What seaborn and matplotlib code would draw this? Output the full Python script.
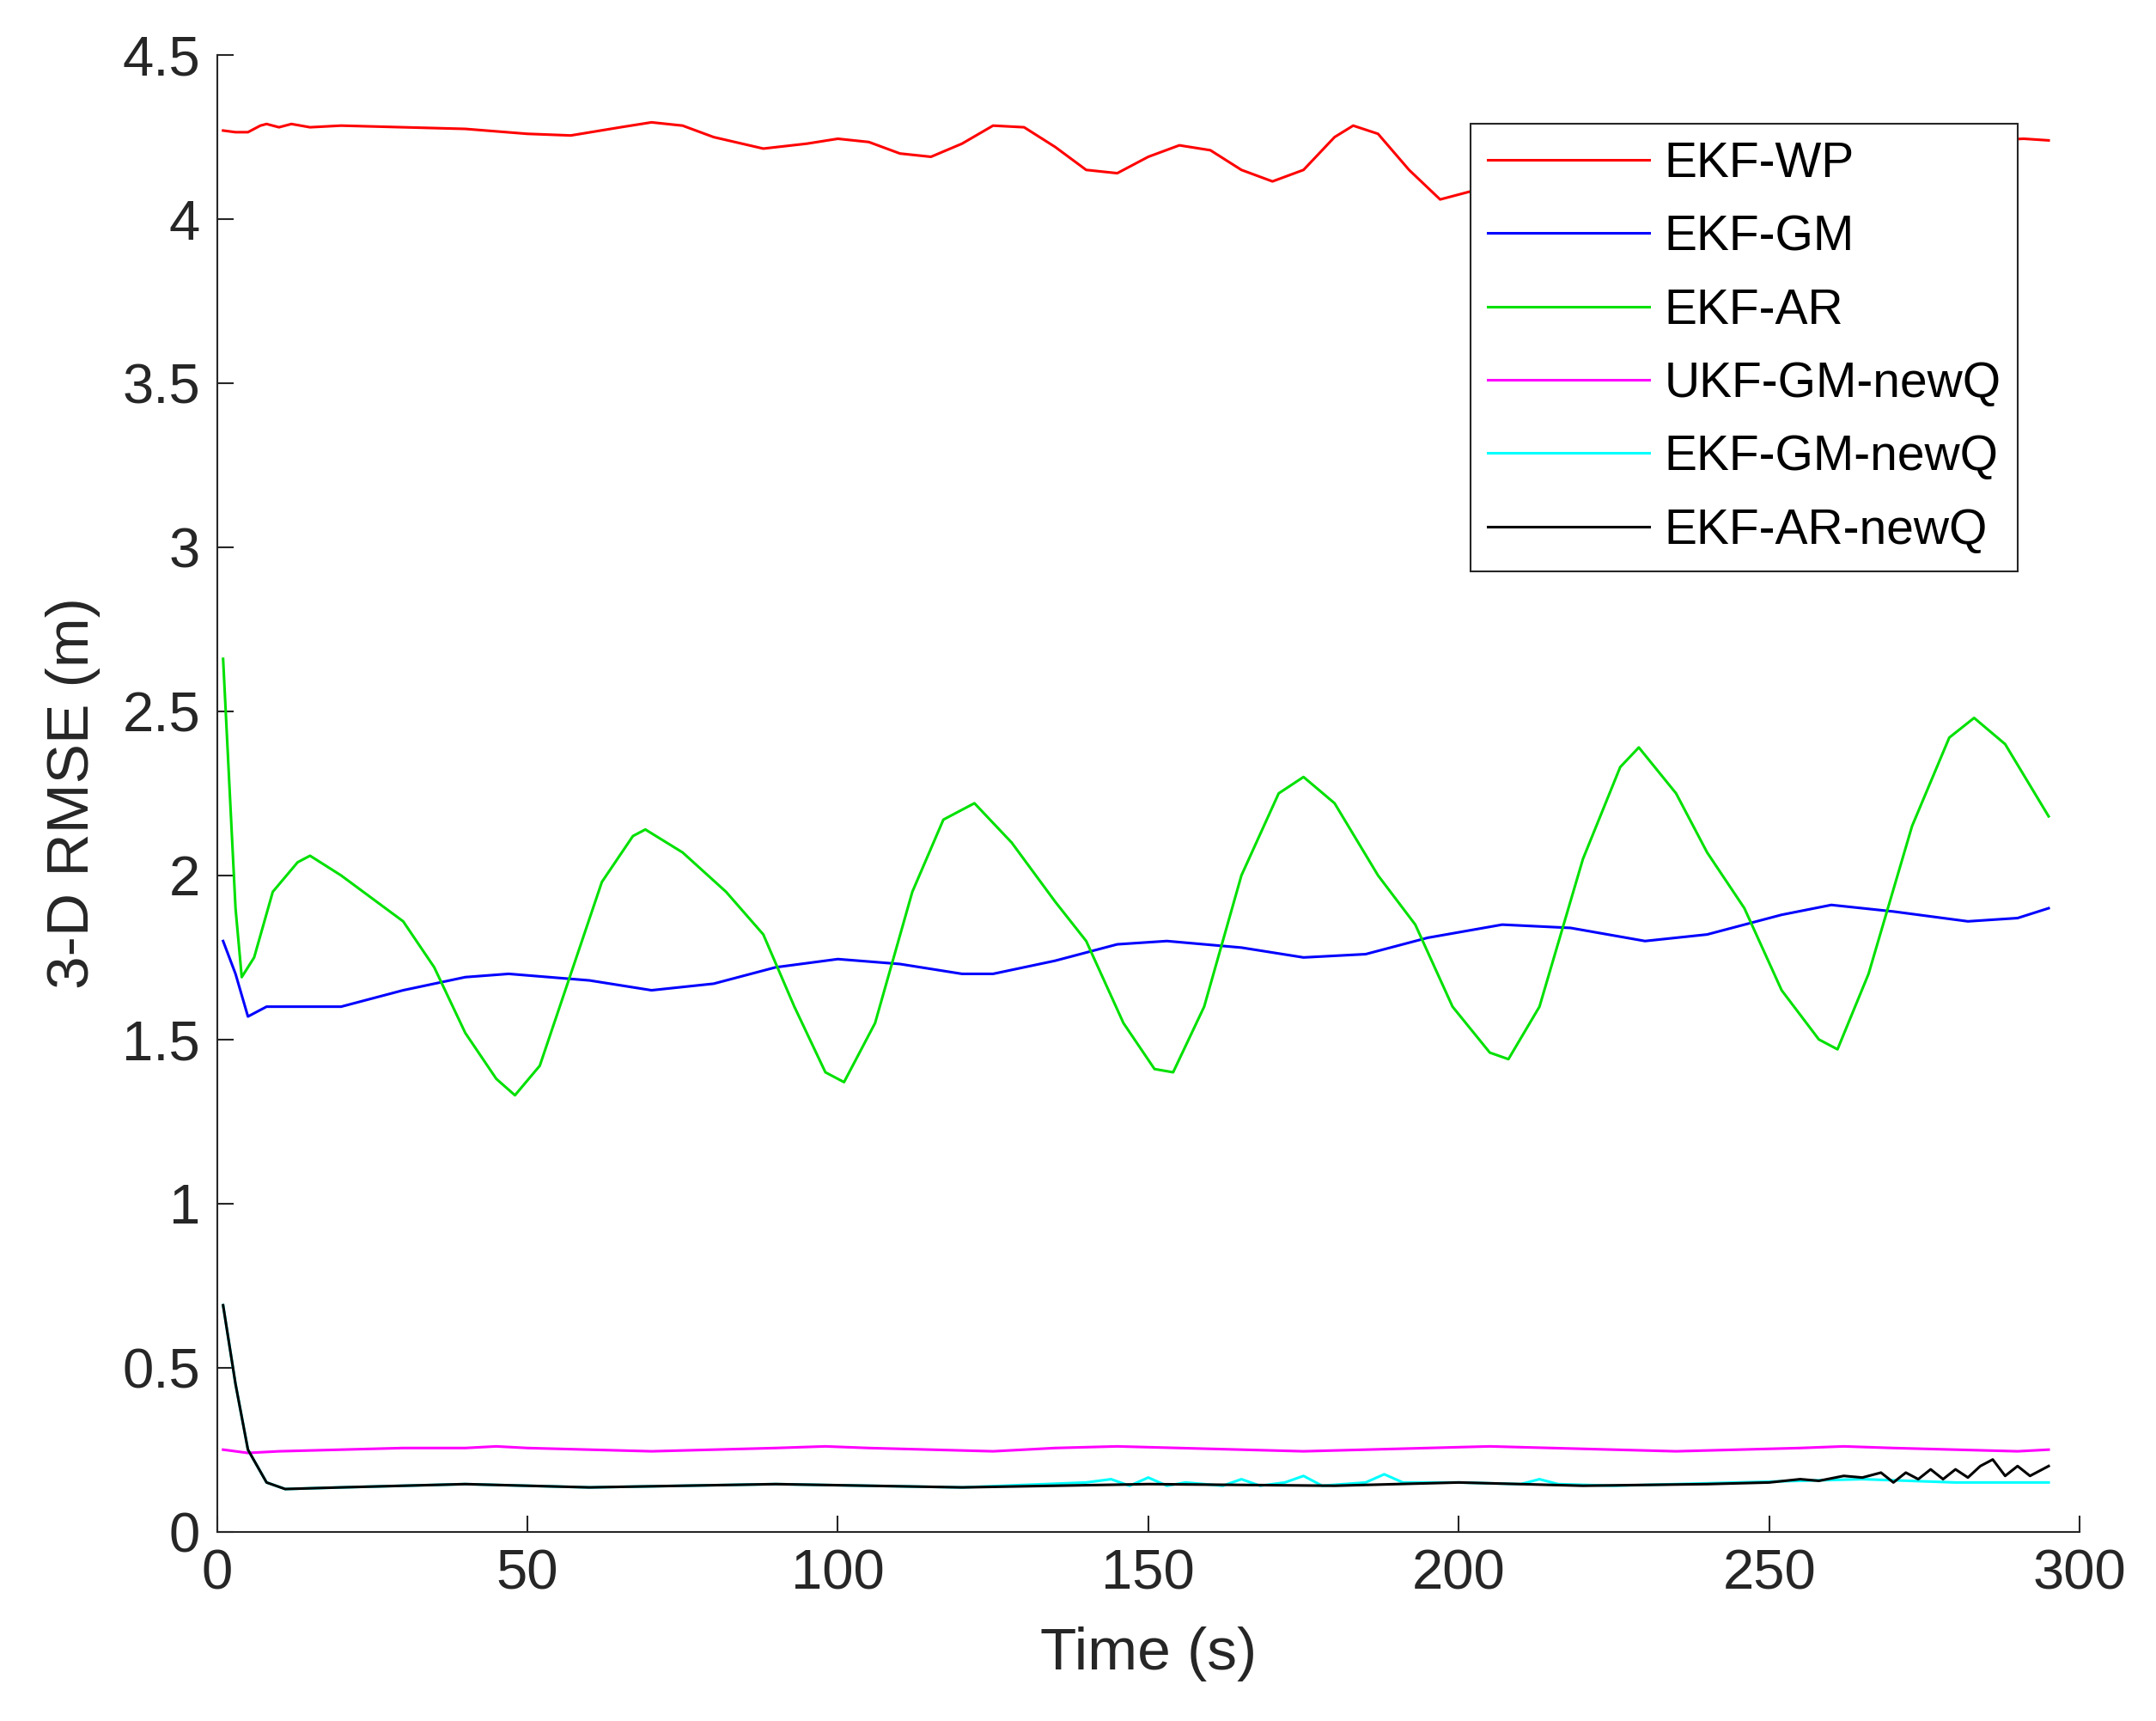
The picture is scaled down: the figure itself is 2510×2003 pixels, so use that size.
import numpy as np
import pandas as pd
import seaborn as sns
import matplotlib
matplotlib.use("Agg")
import matplotlib.pyplot as plt

series_names = ["EKF-WP", "EKF-GM", "EKF-AR", "UKF-GM-newQ", "EKF-GM-newQ", "EKF-AR-newQ"]
colors = ["#ff0000", "#0000ff", "#00e000", "#ff00ff", "#00ffff", "#000000"]

wp_t = [1,3,5,7,8,10,12,15,20,30,40,50,57,65,70,75,80,88,95,100,105,110,115,120,125,130,135,140,145,150,155,160,165,170,175,180,183,187,192,197,205,215,225,235,245,255,265,275,285,291,295]
wp_v = [4.27,4.265,4.265,4.285,4.29,4.28,4.29,4.28,4.285,4.28,4.275,4.26,4.255,4.28,4.295,4.285,4.25,4.215,4.23,4.245,4.235,4.2,4.19,4.23,4.285,4.28,4.22,4.15,4.14,4.19,4.225,4.21,4.15,4.115,4.15,4.25,4.285,4.26,4.15,4.06,4.1,4.15,4.18,4.2,4.22,4.22,4.23,4.24,4.24,4.245,4.24]

gm_t = [1,3,5,8,20,30,40,47,60,70,80,90,100,110,120,125,135,145,153,165,175,185,195,207,218,230,240,252,260,270,282,290,295]
gm_v = [1.8,1.7,1.57,1.6,1.6,1.65,1.69,1.70,1.68,1.65,1.67,1.72,1.745,1.73,1.70,1.70,1.74,1.79,1.80,1.78,1.75,1.76,1.81,1.85,1.84,1.80,1.82,1.88,1.91,1.89,1.86,1.87,1.90]

ar_t = [1,3,4,6,9,13,15,20,25,30,35,40,45,48,52,57,62,67,69,75,82,88,93,98,101,106,112,117,122,128,135,140,146,151,154,159,165,171,175,180,187,193,199,205,208,213,220,226,229,235,240,246,252,258,261,266,273,279,283,288,295]
ar_v = [2.66,1.9,1.69,1.75,1.95,2.04,2.06,2.0,1.93,1.86,1.72,1.52,1.38,1.33,1.42,1.7,1.98,2.12,2.14,2.07,1.95,1.82,1.6,1.4,1.37,1.55,1.95,2.17,2.22,2.1,1.92,1.8,1.55,1.41,1.40,1.6,2.0,2.25,2.3,2.22,2.0,1.85,1.6,1.46,1.44,1.6,2.05,2.33,2.39,2.25,2.07,1.9,1.65,1.5,1.47,1.7,2.15,2.42,2.48,2.4,2.18]

ukf_t = [1,5,10,20,30,40,45,50,60,70,80,90,98,105,115,125,135,145,155,165,175,185,195,205,215,225,235,245,255,262,270,280,290,295]
ukf_v = [0.25,0.24,0.245,0.25,0.255,0.255,0.26,0.255,0.25,0.245,0.25,0.255,0.26,0.255,0.25,0.245,0.255,0.26,0.255,0.25,0.245,0.25,0.255,0.26,0.255,0.25,0.245,0.25,0.255,0.26,0.255,0.25,0.245,0.25]

cy_t = [1,3,5,8,11,20,40,60,90,120,140,144,147,150,153,156,162,165,168,172,175,178,185,188,191,200,210,213,216,225,245,265,280,295]
cy_v = [0.69,0.45,0.25,0.15,0.13,0.135,0.145,0.135,0.145,0.135,0.15,0.16,0.14,0.165,0.14,0.15,0.14,0.16,0.14,0.15,0.17,0.14,0.15,0.175,0.15,0.15,0.145,0.16,0.145,0.14,0.15,0.16,0.15,0.15]

bk_t = [1,3,5,8,11,20,40,60,90,120,150,180,200,220,240,250,255,258,262,265,268,270,272,274,276,278,280,282,284,286,288,290,292,295]
bk_v = [0.69,0.45,0.25,0.15,0.13,0.135,0.145,0.135,0.145,0.135,0.145,0.14,0.15,0.14,0.145,0.15,0.16,0.155,0.17,0.165,0.18,0.15,0.18,0.16,0.19,0.16,0.19,0.165,0.2,0.22,0.17,0.2,0.17,0.2]

all_t = [wp_t, gm_t, ar_t, ukf_t, cy_t, bk_t]
all_v = [wp_v, gm_v, ar_v, ukf_v, cy_v, bk_v]

x_ticks = [0, 50, 100, 150, 200, 250, 300]
y_ticks = [0, 0.5, 1, 1.5, 2, 2.5, 3, 3.5, 4, 4.5]
y_tick_labels = ["0", "0.5", "1", "1.5", "2", "2.5", "3", "3.5", "4", "4.5"]

frames = [pd.DataFrame({"Time": t, "RMSE": v, "Series": n}) for t, v, n in zip(all_t, all_v, series_names)]
df = pd.concat(frames, ignore_index=True)

plt.rcParams["font.family"] = "Liberation Sans"
fig = plt.figure(figsize=(25.1, 20.03), dpi=100)
ax = fig.add_axes([0.1006, 0.11, 0.864, 0.858])
sns.lineplot(data=df, x="Time", y="RMSE", hue="Series", hue_order=series_names,
             palette=colors, linewidth=2.2, ax=ax, sort=False, estimator=None)

ax.set_xlim(0, 300)
ax.set_ylim(0, 4.5)
ax.set_xticks(x_ticks)
ax.set_yticks(y_ticks)
ax.set_yticklabels(y_tick_labels)
ax.tick_params(direction="in", length=14, width=1.5, labelsize=47, colors="#262626", pad=14)
for s in ["top", "right"]:
    ax.spines[s].set_visible(False)
for s in ["left", "bottom"]:
    ax.spines[s].set_linewidth(1.5)
    ax.spines[s].set_color("#262626")
ax.set_xlabel("Time (s)", fontsize=50, color="#262626", labelpad=22)
ax.set_ylabel("3-D RMSE (m)", fontsize=50, color="#262626", labelpad=18)

leg = ax.legend(loc="upper right", bbox_to_anchor=(0.98, 0.97), fontsize=41,
                frameon=True, fancybox=False, edgecolor="#262626", framealpha=1,
                handlelength=3.3, handletextpad=0.3, borderpad=0.35, labelspacing=0.55)
leg.get_frame().set_linewidth(1.5)
for line in leg.get_lines():
    line.set_linewidth(2.2)

fig.savefig("out.png", dpi=100)
